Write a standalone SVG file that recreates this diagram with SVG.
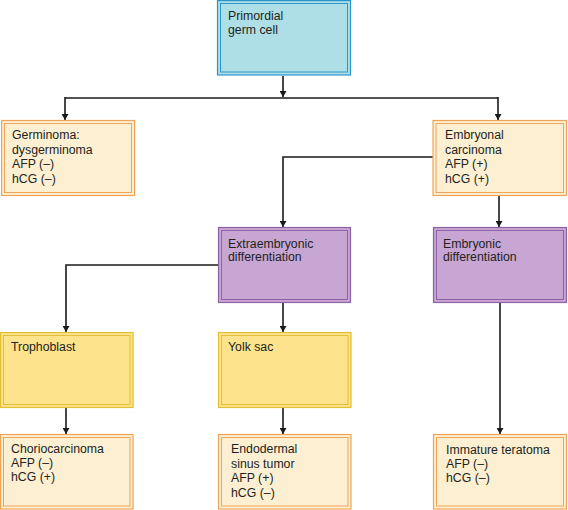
<svg xmlns="http://www.w3.org/2000/svg" width="568" height="510" viewBox="0 0 568 510">
<style>
text{font-family:"Liberation Sans",Arial,sans-serif;font-size:12.3px;fill:#231f20}
.o{stroke-width:1.2}
.i{fill:none;stroke-width:1}
.blue rect{stroke:#2a96cc}
.blue .o{fill:#aedfe6}
.org rect{stroke:#f0a458}
.org .o{fill:#fdefd2}
.pur rect{stroke:#8e62a6}
.pur .o{fill:#c7a6d3}
.yel rect{stroke:#e3bf35}
.yel .o{fill:#fde48c}
.c{fill:none;stroke:#1a1a1a;stroke-width:1.6}
</style>
<defs>
<marker id="ah" viewBox="0 0 10 10" refX="10" refY="5" markerWidth="6" markerHeight="7" markerUnits="userSpaceOnUse" orient="auto" preserveAspectRatio="none">
<path d="M0,0 L10,5 L0,10 Z" fill="#1a1a1a"/>
</marker>
</defs>
<g id="connectors">
<path class="c" d="M283,76 V97" marker-end="url(#ah)"/>
<path class="c" d="M65,98 H498"/>
<path class="c" d="M65,97 V120" marker-end="url(#ah)"/>
<path class="c" d="M498,97 V120" marker-end="url(#ah)"/>
<path class="c" d="M433,157 H283 V227" marker-end="url(#ah)"/>
<path class="c" d="M499,195 V227" marker-end="url(#ah)"/>
<path class="c" d="M218,265 H66 V332" marker-end="url(#ah)"/>
<path class="c" d="M283,303 V332" marker-end="url(#ah)"/>
<path class="c" d="M66,408 V434" marker-end="url(#ah)"/>
<path class="c" d="M283,408 V434" marker-end="url(#ah)"/>
<path class="c" d="M500,303 V434" marker-end="url(#ah)"/>
</g>
<g id="primordial" class="blue">
<rect class="o" x="217.5" y="0.6" width="133" height="74.4"/>
<rect class="i" x="220.5" y="3.5" width="127" height="68.5"/>
<text x="228" y="20">Primordial</text>
<text x="228" y="34">germ cell</text>
</g>
<g id="germinoma" class="org">
<rect class="o" x="1.6" y="120.5" width="133" height="75"/>
<rect class="i" x="4.5" y="123.5" width="127" height="69"/>
<text x="12" y="139">Germinoma:</text>
<text x="12" y="153.5">dysgerminoma</text>
<text x="12" y="168">AFP (–)</text>
<text x="12" y="182.5">hCG (–)</text>
</g>
<g id="embryonal" class="org">
<rect class="o" x="433" y="120.5" width="133.5" height="75"/>
<rect class="i" x="436" y="123.5" width="127.5" height="69"/>
<text x="445" y="139">Embryonal</text>
<text x="445" y="153.5">carcinoma</text>
<text x="445" y="168">AFP (+)</text>
<text x="445" y="182.5">hCG (+)</text>
</g>
<g id="extraembryonic" class="pur">
<rect class="o" x="218.5" y="227.5" width="132" height="75"/>
<rect class="i" x="221.5" y="230.5" width="126" height="69"/>
<text x="228" y="248">Extraembryonic</text>
<text x="228" y="261">differentiation</text>
</g>
<g id="embryonic" class="pur">
<rect class="o" x="433.5" y="227.5" width="133" height="75"/>
<rect class="i" x="436.5" y="230.5" width="127" height="69"/>
<text x="443" y="248">Embryonic</text>
<text x="443" y="261">differentiation</text>
</g>
<g id="trophoblast" class="yel">
<rect class="o" x="0.6" y="332.5" width="132.5" height="75"/>
<rect class="i" x="3.5" y="335.5" width="126.5" height="69"/>
<text x="11" y="351">Trophoblast</text>
</g>
<g id="yolksac" class="yel">
<rect class="o" x="218.5" y="332.5" width="132.5" height="75"/>
<rect class="i" x="221.5" y="335.5" width="126.5" height="69"/>
<text x="228" y="351">Yolk sac</text>
</g>
<g id="choriocarcinoma" class="org">
<rect class="o" x="0.6" y="434.5" width="132.5" height="74.5"/>
<rect class="i" x="3.5" y="437.5" width="126.5" height="68.5"/>
<text x="11" y="453">Choriocarcinoma</text>
<text x="11" y="467">AFP (–)</text>
<text x="11" y="481">hCG (+)</text>
</g>
<g id="endodermal" class="org">
<rect class="o" x="218.5" y="434.5" width="132.5" height="74.5"/>
<rect class="i" x="221.5" y="437.5" width="126.5" height="68.5"/>
<text x="231" y="453">Endodermal</text>
<text x="231" y="467.5">sinus tumor</text>
<text x="231" y="482">AFP (+)</text>
<text x="231" y="496.5">hCG (–)</text>
</g>
<g id="teratoma" class="org">
<rect class="o" x="433.5" y="434.5" width="133" height="74.5"/>
<rect class="i" x="436.5" y="437.5" width="127" height="68.5"/>
<text x="446" y="454">Immature teratoma</text>
<text x="446" y="468">AFP (–)</text>
<text x="446" y="482">hCG (–)</text>
</g>
</svg>
